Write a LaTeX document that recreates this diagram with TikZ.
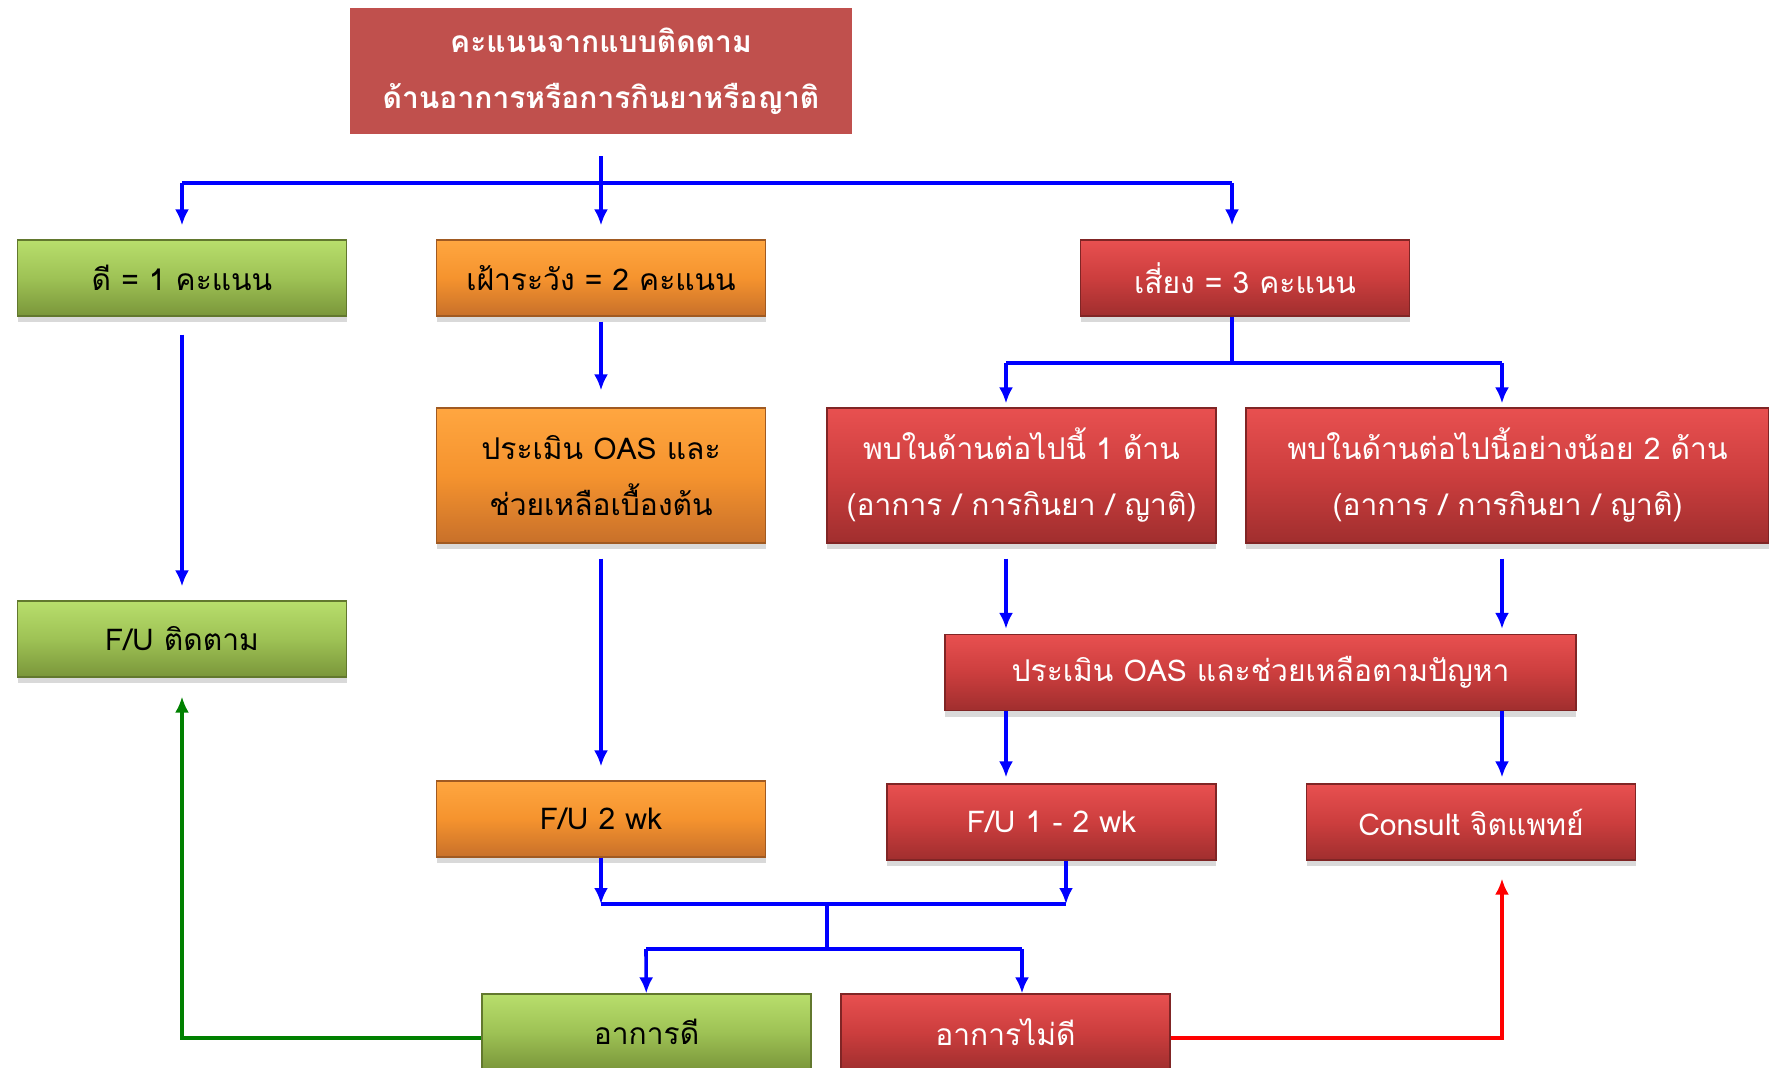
\documentclass[tikz,border=0pt]{standalone}
\usepackage{fontspec}
\newfontfamily\thaifont[Script=Thai]{Loma}
\usetikzlibrary{arrows.meta,shadows}

\definecolor{titlered}{HTML}{C0504D}
\definecolor{greentop}{HTML}{B8DE6C}
\definecolor{greenmid}{HTML}{9EC255}
\definecolor{greenbot}{HTML}{7A963A}
\definecolor{orangetop}{HTML}{FFA640}
\definecolor{orangemid}{HTML}{F5932E}
\definecolor{orangebot}{HTML}{C8702A}
\definecolor{redtop}{HTML}{E85050}
\definecolor{redmid}{HTML}{CC3E3E}
\definecolor{redbot}{HTML}{A02E2E}

\begin{document}
\begin{tikzpicture}[x=0.5pt,y=-0.5pt,font=\thaifont\fontsize{15}{28}\selectfont]
  \tikzstyle{box}=[draw, line width=0.6pt, minimum width=164.5pt, minimum height=38pt, align=center, inner sep=2pt,
    drop shadow={opacity=0.3,shadow xshift=0pt,shadow yshift=-3pt}]
  \tikzstyle{tbox}=[fill=titlered, text=white, minimum width=251pt, minimum height=63pt, align=center, font=\thaifont\bfseries\fontsize{15}{28}\selectfont]
  \tikzstyle{gbox}=[box, draw=greenbot!80!black, top color=greentop, bottom color=greenbot, middle color=greenmid]
  \tikzstyle{obox}=[box, draw=orangebot!80!black, top color=orangetop, bottom color=orangebot, middle color=orangemid]
  \tikzstyle{rbox}=[box, draw=redbot!80!black, top color=redtop, bottom color=redbot, middle color=redmid, text=white]
  \tikzstyle{link}=[blue, line width=1.8pt]
  \tikzstyle{bar}=[blue, line width=2.4pt]
  \tikzstyle{flow}=[link, -{Latex[length=8pt,width=7pt]}]
  \tikzstyle{gflow}=[green!50!black, line width=1.9pt, -{Latex[length=8pt,width=7pt]}]
  \tikzstyle{rflow}=[red, line width=1.9pt, -{Latex[length=8pt,width=7pt]}]

  \useasboundingbox (0,0) rectangle (1769,1067);

  \node[tbox] (score) at (601,71) {คะแนนจากแบบติดตาม\\ด้านอาการหรือการกินยาหรือญาติ};
  \node[gbox] (good1) at (182,278) {ดี = 1 คะแนน};
  \node[obox] (watch1) at (601,278) {เฝ้าระวัง = 2 คะแนน};
  \node[rbox] (risk1) at (1245,278) {เสี่ยง = 3 คะแนน};
  \node[gbox] (good2) at (182,639) {F/U ติดตาม};
  \node[obox, minimum height=67.5pt] (watch2) at (601,475.5) {ประเมิน OAS และ\\ช่วยเหลือเบื้องต้น};
  \node[obox] (watch3) at (601,819) {F/U 2 wk};
  \node[rbox, minimum width=194.5pt, minimum height=67.5pt] (risk2) at (1021.5,475.5) {พบในด้านต่อไปนี้ 1 ด้าน\\(อาการ / การกินยา / ญาติ)};
  \node[rbox, minimum width=261.5pt, minimum height=67.5pt] (risk3) at (1507.5,475.5) {พบในด้านต่อไปนี้อย่างน้อย 2 ด้าน\\(อาการ / การกินยา / ญาติ)};
  \node[rbox, minimum width=315.5pt] (risk4) at (1260.5,672.5) {ประเมิน OAS และช่วยเหลือตามปัญหา};
  \node[rbox] (risk5) at (1051.5,822) {F/U 1 - 2 wk};
  \node[rbox] (risk6) at (1471,822) {Consult จิตแพทย์};
  \node[gbox] (better) at (646.5,1032) {อาการดี};
  \node[rbox] (worse) at (1005.5,1032) {อาการไม่ดี};

  \coordinate (a0) at (182,183);
  \coordinate (a1) at (601,183);
  \coordinate (a2) at (1232,183);
  \coordinate (c1) at (1232,363);
  \coordinate (c0) at (1006,363);
  \coordinate (c2) at (1502,363);
  \coordinate (j0) at (601,904);
  \coordinate (j1) at (827,904);
  \coordinate (j2) at (1066,904);
  \coordinate (k0) at (646,949);
  \coordinate (k1) at (827,949);
  \coordinate (k2) at (1022,949);
  \coordinate (b0) at (182,1038);
  \coordinate (b1) at (1502,1038);

  \draw[link, shorten <=11pt] (score) -- (a1);
  \draw[bar] (a0) -- (a2);
  \draw[flow, shorten >=7pt] (a0) -- (good1);
  \draw[flow, shorten >=7pt] (a1) -- (watch1);
  \draw[flow, shorten >=7pt] (a2) -- (risk1.north -| a2);

  \draw[flow, shorten <=9pt, shorten >=7pt] (good1) -- (good2);
  \draw[flow, shorten <=2.5pt, shorten >=8.5pt] (watch1) -- (watch2);
  \draw[flow, shorten <=7.5pt, shorten >=7pt] (watch2) -- (watch3);

  \draw[link] (risk1.south -| c1) -- (c1);
  \draw[bar] (c0) -- (c2);
  \draw[flow, shorten >=2pt] (c0) -- (risk2.north -| c0);
  \draw[flow, shorten >=2pt] (c2) -- (risk3.north -| c2);
  \draw[flow, shorten <=7.5pt, shorten >=2.5pt] (risk2.south -| c0) -- (risk4.north -| c0);
  \draw[flow, shorten <=7.5pt, shorten >=2.5pt] (risk3.south -| c2) -- (risk4.north -| c2);
  \draw[flow, shorten >=3pt] (risk4.south -| c0) -- (risk5.north -| c0);
  \draw[flow, shorten >=3pt] (risk4.south -| c2) -- (risk6.north -| c2);

  \draw[flow] (watch3) -- (j0);
  \draw[flow] (risk5.south -| j2) -- (j2);
  \draw[bar] (j0) -- (j2);
  \draw[link] (j1) -- (k1);
  \draw[bar] (k0) -- (k2);
  \draw[flow] (k0) -- (better);
  \draw[flow] (k2) -- (worse.north -| k2);

  \draw[gflow, shorten >=9.5pt] ([yshift=-3pt]better.west) -- (b0) -- (good2);
  \draw[rflow, shorten >=9pt] ([yshift=-3pt]worse.east) -- (b1) -- (risk6.south -| b1);
\end{tikzpicture}
\end{document}
